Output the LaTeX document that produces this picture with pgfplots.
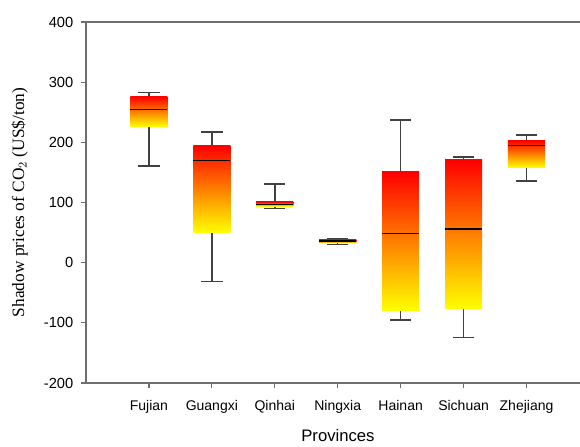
\documentclass[border=0pt]{standalone}
\usepackage{fontspec}
\setmainfont{Liberation Sans}
\newfontfamily\seriffont{Liberation Serif}
\usepackage{pgfplots}
\usepackage{pgfplotstable}
\pgfplotsset{compat=1.18}

\pgfplotstableread{
pos lw lq med uq uw
1 161 226 255 276 282.5
2 -31.5 50 169.5 194 217
3 90 94 96 101 131
4 30.5 33 36 38 39
5 -95.5 -80 48 151 237
6 -124.5 -77 56 171 176
7 136 158 194.5 203 212
}\boxdata

\definecolor{axgray}{RGB}{110,110,110}
\definecolor{whisk}{RGB}{65,65,65}

\begin{document}
\begin{tikzpicture}
\useasboundingbox (0,0) rectangle (435pt,334.5pt);
\begin{axis}[
  at={(64.5pt,47.25pt)}, anchor=south west,
  scale only axis, width=370.5pt, height=270.75pt,
  xmin=0, xmax=7.85, ymin=-200, ymax=400,
  axis x line*=box, axis y line*=left,
  axis line style={axgray, line width=0.9pt},
  xtick={1,...,7},
  xticklabels={Fujian,Guangxi,Qinhai,Ningxia,Hainan,Sichuan,Zhejiang},
  ytick={-200,-100,...,400},
  xtick pos=bottom, ytick pos=left,
  tick align=outside, major tick length=4pt,
  tick style={axgray, line width=0.9pt},
  /pgf/number format/assume math mode=true,
  yticklabel style={font=\fontsize{11}{12}\selectfont, xshift=-2pt},
  xticklabel style={font=\fontsize{10.5}{12}\selectfont, yshift=-5.5pt},
  xlabel={Provinces},
  xlabel style={font=\fontsize{12.5}{14}\selectfont, at={(axis description cs:0.51,-0.145)}, anchor=center},
  ylabel={\seriffont Shadow prices of CO$_2$ (US\$/ton)},
  ylabel style={font=\fontsize{13}{15}\selectfont, at={(axis description cs:-0.134,0.5)}, anchor=center},
  boxfill/.style={draw=none, top color=red, bottom color=yellow, forget plot},
]
% whiskers with caps
\addplot[draw=none, mark=none, forget plot,
  error bars/.cd, y dir=both, y explicit,
  error mark=|, error mark options={whisk, line width=1.1pt, mark size=8pt},
  error bar style={whisk, line width=1.1pt}]
  table[x=pos, y=med, y error plus expr=\thisrow{uw}-\thisrow{med}, y error minus expr=\thisrow{med}-\thisrow{lw}] {\boxdata};
% gradient boxes (lower quartile to upper quartile, half width 0.295)
\addplot[boxfill] coordinates {(0.705,226) (1.295,226) (1.295,276) (0.705,276) (0.705,226)};
\addplot[boxfill] coordinates {(1.705,50) (2.295,50) (2.295,194) (1.705,194) (1.705,50)};
\addplot[boxfill] coordinates {(2.705,94) (3.295,94) (3.295,101) (2.705,101) (2.705,94)};
\addplot[boxfill] coordinates {(3.705,33) (4.295,33) (4.295,38) (3.705,38) (3.705,33)};
\addplot[boxfill] coordinates {(4.705,-80) (5.295,-80) (5.295,151) (4.705,151) (4.705,-80)};
\addplot[boxfill] coordinates {(5.705,-77) (6.295,-77) (6.295,171) (5.705,171) (5.705,-77)};
\addplot[boxfill] coordinates {(6.705,158) (7.295,158) (7.295,203) (6.705,203) (6.705,158)};
% medians
\addplot[only marks, mark=-, mark size=13.9pt, mark options={black, line width=0.8pt}]
  table[x=pos, y=med] {\boxdata};
\end{axis}
\end{tikzpicture}
\end{document}
